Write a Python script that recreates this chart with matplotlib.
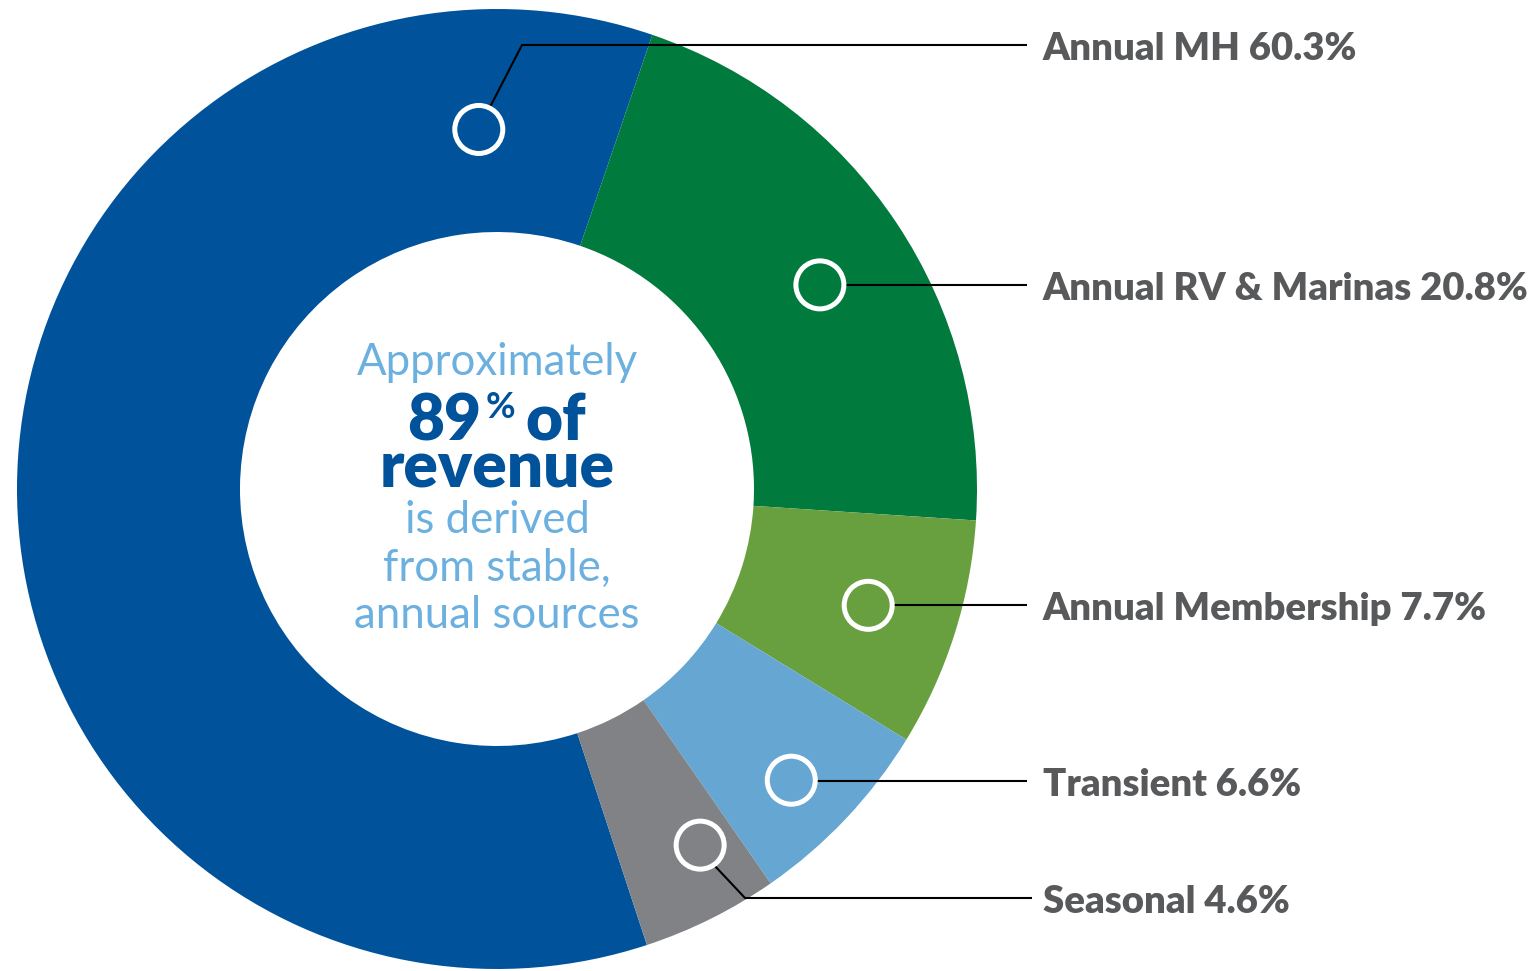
import matplotlib.pyplot as plt
import numpy as np

# revenue mix (share of total, %)
categories = ["Annual MH", "Annual RV & Marinas", "Annual Membership", "Transient", "Seasonal"]
shares = [60.3, 20.8, 7.7, 6.6, 4.6]
colors = ["#00539b", "#007a3d", "#68a03f", "#66a6d3", "#808285"]

# marker ring for each slice: (angle clockwise from top in degrees, radius in px)
markers = [(-2.9, 360), (57.7, 382), (107.4, 389), (134.7, 414), (150.3, 410)]
label_y = [45, 285, 605, 781, 898]

W, H = 1540, 971
cx, cy = 497, 489
r_out, r_in = 480, 257

fig = plt.figure(figsize=(W / 100, H / 100), dpi=100)
ax = fig.add_axes([0, 0, 1, 1])

def fy(y):
    # pixel row (from top) to data y
    return H - y

ax.pie(shares, colors=colors, radius=r_out, center=(cx, fy(cy)),
       startangle=-71.8, counterclock=False,
       wedgeprops=dict(width=r_out - r_in, linewidth=0))

ax.set_xlim(0, W)
ax.set_ylim(0, H)
ax.set_aspect('equal')
ax.axis('off')

# rings and leader lines
for i, (ang, rad) in enumerate(markers):
    a = np.deg2rad(ang)
    mx = cx + rad * np.sin(a)
    my = cy - rad * np.cos(a)
    ax.add_patch(plt.Circle((mx, fy(my)), 24, facecolor='none', edgecolor='white', lw=3.6, zorder=5))
    ly = label_y[i]
    if i == 0:
        xs = [mx + 11, 522, 1027]
        ys = [my - 22, ly, ly]
    elif i == 4:
        xs = [mx + 14, 745, 1032]
        ys = [my + 20, ly, ly]
    else:
        xs = [mx + 25, 1027]
        ys = [ly, ly]
    ax.plot(xs, [fy(v) for v in ys], color='black', lw=1.5, solid_capstyle='butt', zorder=4)
    ax.text(1043, fy(ly + 4), f"{categories[i]} {shares[i]}%", fontsize=27.5, fontweight='heavy',
            family='Lato', color='#58595b', ha='left', va='center')

# centre text
light = '#6cb0e0'
dark = '#00529b'
ax.text(cx, fy(375), "Approximately", fontsize=31.5, family='Lato', color=light, ha='center', va='baseline')
ax.text(481, fy(440), "89", fontsize=46, fontweight='heavy', family='Lato', color=dark, ha='right', va='baseline')
ax.text(486, fy(418), "%", fontsize=26, fontweight='bold', family='Lato', color=dark, ha='left', va='baseline')
ax.text(525, fy(440), "of", fontsize=46, fontweight='heavy', family='Lato', color=dark, ha='left', va='baseline')
ax.text(cx, fy(487), "revenue", fontsize=46, fontweight='heavy', family='Lato', color=dark, ha='center', va='baseline')
for txt, yb in [("is derived", 533), ("from stable,", 581), ("annual sources", 628)]:
    ax.text(cx, fy(yb), txt, fontsize=31.5, family='Lato', color=light, ha='center', va='baseline')

plt.savefig('out.png', dpi=100)
